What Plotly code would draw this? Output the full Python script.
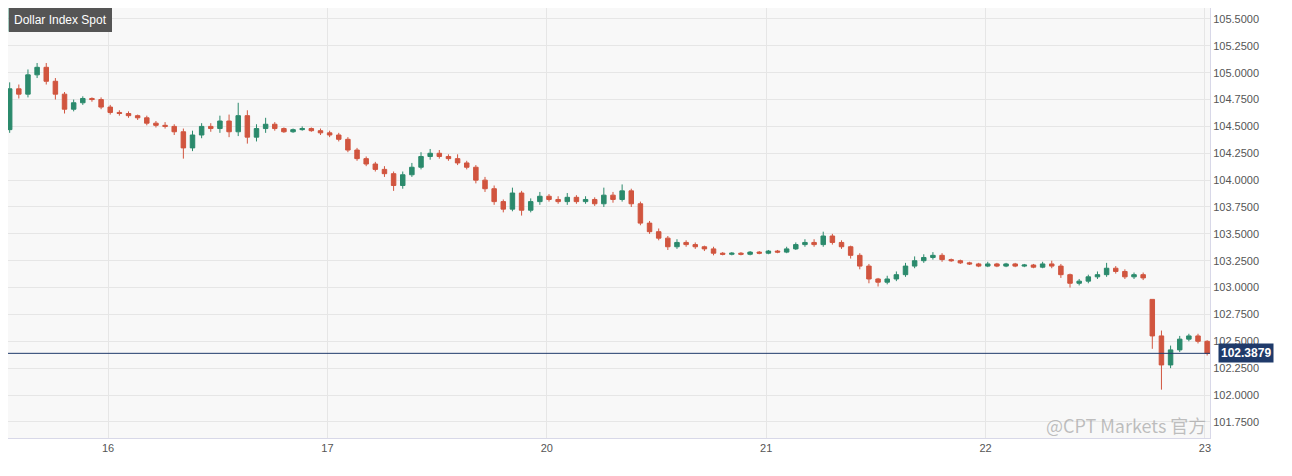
import numpy as np
import plotly.graph_objects as go

closes = [104.47,104.85,104.80,104.98,105.05,104.92,104.80,104.66,104.72,104.76,
          104.75,104.68,104.63,104.62,104.60,104.58,104.53,104.51,104.50,104.45,
          104.30,104.42,104.50,104.48,104.55,104.45,104.60,104.40,104.48,104.52,
          104.48,104.45,104.47,104.48,104.46,104.44,104.42,104.38,104.28,104.20,
          104.15,104.10,104.06,103.95,104.05,104.12,104.22,104.25,104.22,104.20,
          104.16,104.12,104.00,103.92,103.80,103.73,103.88,103.72,103.80,103.85,
          103.82,103.80,103.84,103.80,103.82,103.78,103.86,103.82,103.90,103.78,
          103.60,103.52,103.46,103.38,103.42,103.40,103.38,103.36,103.32,103.31,
          103.32,103.31,103.33,103.32,103.34,103.33,103.36,103.40,103.42,103.40,
          103.48,103.42,103.38,103.30,103.20,103.08,103.05,103.08,103.12,103.20,
          103.25,103.28,103.30,103.26,103.25,103.23,103.22,103.20,103.22,103.20,
          103.22,103.20,103.21,103.19,103.22,103.20,103.12,103.04,103.06,103.10,
          103.12,103.18,103.15,103.10,103.12,103.09,102.55,102.28,102.42,102.52,
          102.55,102.50,102.3879]
first_open = 104.40
gap_open = {126: 102.89}
wick_up = [0.03,0.06,0.04,0.05,0.04,0.04,0.03,0.02,0.03,0.02,
           0.01,0.02,0.02,0.02,0.02,0.01,0.02,0.02,0.03,0.02,
           0.03,0.04,0.03,0.03,0.05,0.06,0.12,0.05,0.04,0.06,
           0.02,0.01,0.01,0.02,0.01,0.02,0.02,0.02,0.02,0.02,
           0.02,0.02,0.03,0.02,0.03,0.04,0.04,0.04,0.03,0.02,
           0.04,0.02,0.02,0.03,0.03,0.02,0.05,0.02,0.03,0.04,
           0.02,0.03,0.04,0.02,0.03,0.02,0.07,0.03,0.06,0.02,
           0.02,0.02,0.03,0.02,0.03,0.02,0.02,0.01,0.02,0.01,
           0.01,0.01,0.01,0.01,0.01,0.01,0.02,0.02,0.03,0.03,
           0.04,0.02,0.02,0.01,0.02,0.02,0.01,0.03,0.03,0.03,
           0.04,0.03,0.03,0.02,0.01,0.01,0.01,0.01,0.02,0.01,
           0.01,0.01,0.01,0.01,0.02,0.03,0.02,0.01,0.02,0.02,
           0.03,0.05,0.02,0.02,0.02,0.02,0.00,0.05,0.04,0.03,
           0.02,0.02,0.01]
wick_dn = [0.05,0.03,0.04,0.03,0.03,0.03,0.05,0.04,0.02,0.02,
           0.02,0.02,0.02,0.02,0.02,0.02,0.02,0.02,0.02,0.03,
           0.10,0.03,0.03,0.03,0.04,0.05,0.04,0.06,0.04,0.04,
           0.02,0.01,0.01,0.01,0.01,0.02,0.02,0.02,0.02,0.02,
           0.02,0.02,0.03,0.05,0.03,0.02,0.02,0.03,0.02,0.02,
           0.02,0.02,0.03,0.03,0.03,0.03,0.02,0.05,0.02,0.03,
           0.02,0.02,0.03,0.02,0.02,0.02,0.03,0.03,0.02,0.03,
           0.02,0.02,0.02,0.03,0.02,0.02,0.02,0.02,0.02,0.01,
           0.01,0.01,0.01,0.01,0.01,0.01,0.01,0.01,0.02,0.02,
           0.02,0.02,0.02,0.03,0.03,0.04,0.04,0.02,0.02,0.02,
           0.02,0.02,0.02,0.02,0.01,0.01,0.01,0.01,0.01,0.01,
           0.01,0.01,0.01,0.01,0.01,0.02,0.03,0.04,0.02,0.02,
           0.02,0.02,0.02,0.02,0.02,0.02,0.12,0.23,0.03,0.02,
           0.02,0.02,0.02]
day_labels = ["16", "17", "20", "21", "22", "23"]
y_ticks = [101.5,101.75,102.0,102.25,102.5,102.75,103.0,103.25,103.5,103.75,
           104.0,104.25,104.5,104.75,105.0,105.25,105.5]
last_price = 102.3879
title = "Dollar Index Spot"

n = len(closes)
start_day = -0.49
step = 1/24
x = [start_day + i*step for i in range(n)]
opens = [first_open] + closes[:-1]
for k, v in gap_open.items():
    opens[k] = v
highs = [max(o, c) + w for o, c, w in zip(opens, closes, wick_up)]
lows = [min(o, c) - w for o, c, w in zip(opens, closes, wick_dn)]

UP = "#2b8a6c"; DN = "#d1553f"
fig = go.Figure(go.Candlestick(
    x=x, open=opens, high=highs, low=lows, close=closes,
    increasing=dict(line=dict(color=UP, width=1), fillcolor=UP),
    decreasing=dict(line=dict(color=DN, width=1), fillcolor=DN),
    whiskerwidth=0, showlegend=False, hoverinfo="skip"))

fig.add_hline(y=last_price, line=dict(color="#1f3a6a", width=1))

fig.update_layout(
    width=1284, height=468,
    margin=dict(l=0, r=82, t=0, b=38, autoexpand=False),
    paper_bgcolor="white", plot_bgcolor="#f8f8f8",
    xaxis=dict(range=[-0.456, 5.023], tickvals=list(range(6)), ticktext=day_labels,
               rangeslider=dict(visible=False), showgrid=True, gridcolor="#e6e6e6",
               tickfont=dict(family="Liberation Sans, Arial", size=11, color="#555"),
               showline=True, linecolor="#d8d8e8", mirror=True, zeroline=False,
               automargin=False),
    yaxis=dict(side="right", range=[101.6, 105.602], tickvals=y_ticks,
               ticktext=[f"{v:.4f}" for v in y_ticks], showgrid=True, gridcolor="#e6e6e6",
               tickfont=dict(family="Liberation Sans, Arial", size=11, color="#555"),
               showline=True, linecolor="#d8d8e8", mirror=True, zeroline=False,
               automargin=False),
    font=dict(family="Liberation Sans, Arial"),
)
fig.add_annotation(xref="paper", yref="paper", x=0.0, y=1.0, xanchor="left", yanchor="top",
                   text=title, showarrow=False, bgcolor="#555555",
                   font=dict(color="white", size=12), borderpad=4,
                   bordercolor="#555555", xshift=1)
fig.add_shape(type="rect", xref="paper", yref="paper", x0=0.0005, x1=0.003, y0=0.945, y1=1.0,
              fillcolor="#2b8a6c", line=dict(width=0))
fig.add_annotation(xref="paper", yref="y", x=1.0, y=last_price, xanchor="left",
                   text="<b>" + f"{last_price:.4f}" + "</b>", showarrow=False,
                   bgcolor="#1f3a6a", font=dict(color="white", size=12), borderpad=2, xshift=8)
fig.add_annotation(xref="paper", yref="paper", x=0.998, y=-0.005, xanchor="right", yanchor="bottom",
                   text="@CPT Markets 官方", showarrow=False,
                   font=dict(color="rgba(150,150,150,0.6)", size=18,
                             family="Noto Sans CJK SC"))
fig.write_html("out.html")
